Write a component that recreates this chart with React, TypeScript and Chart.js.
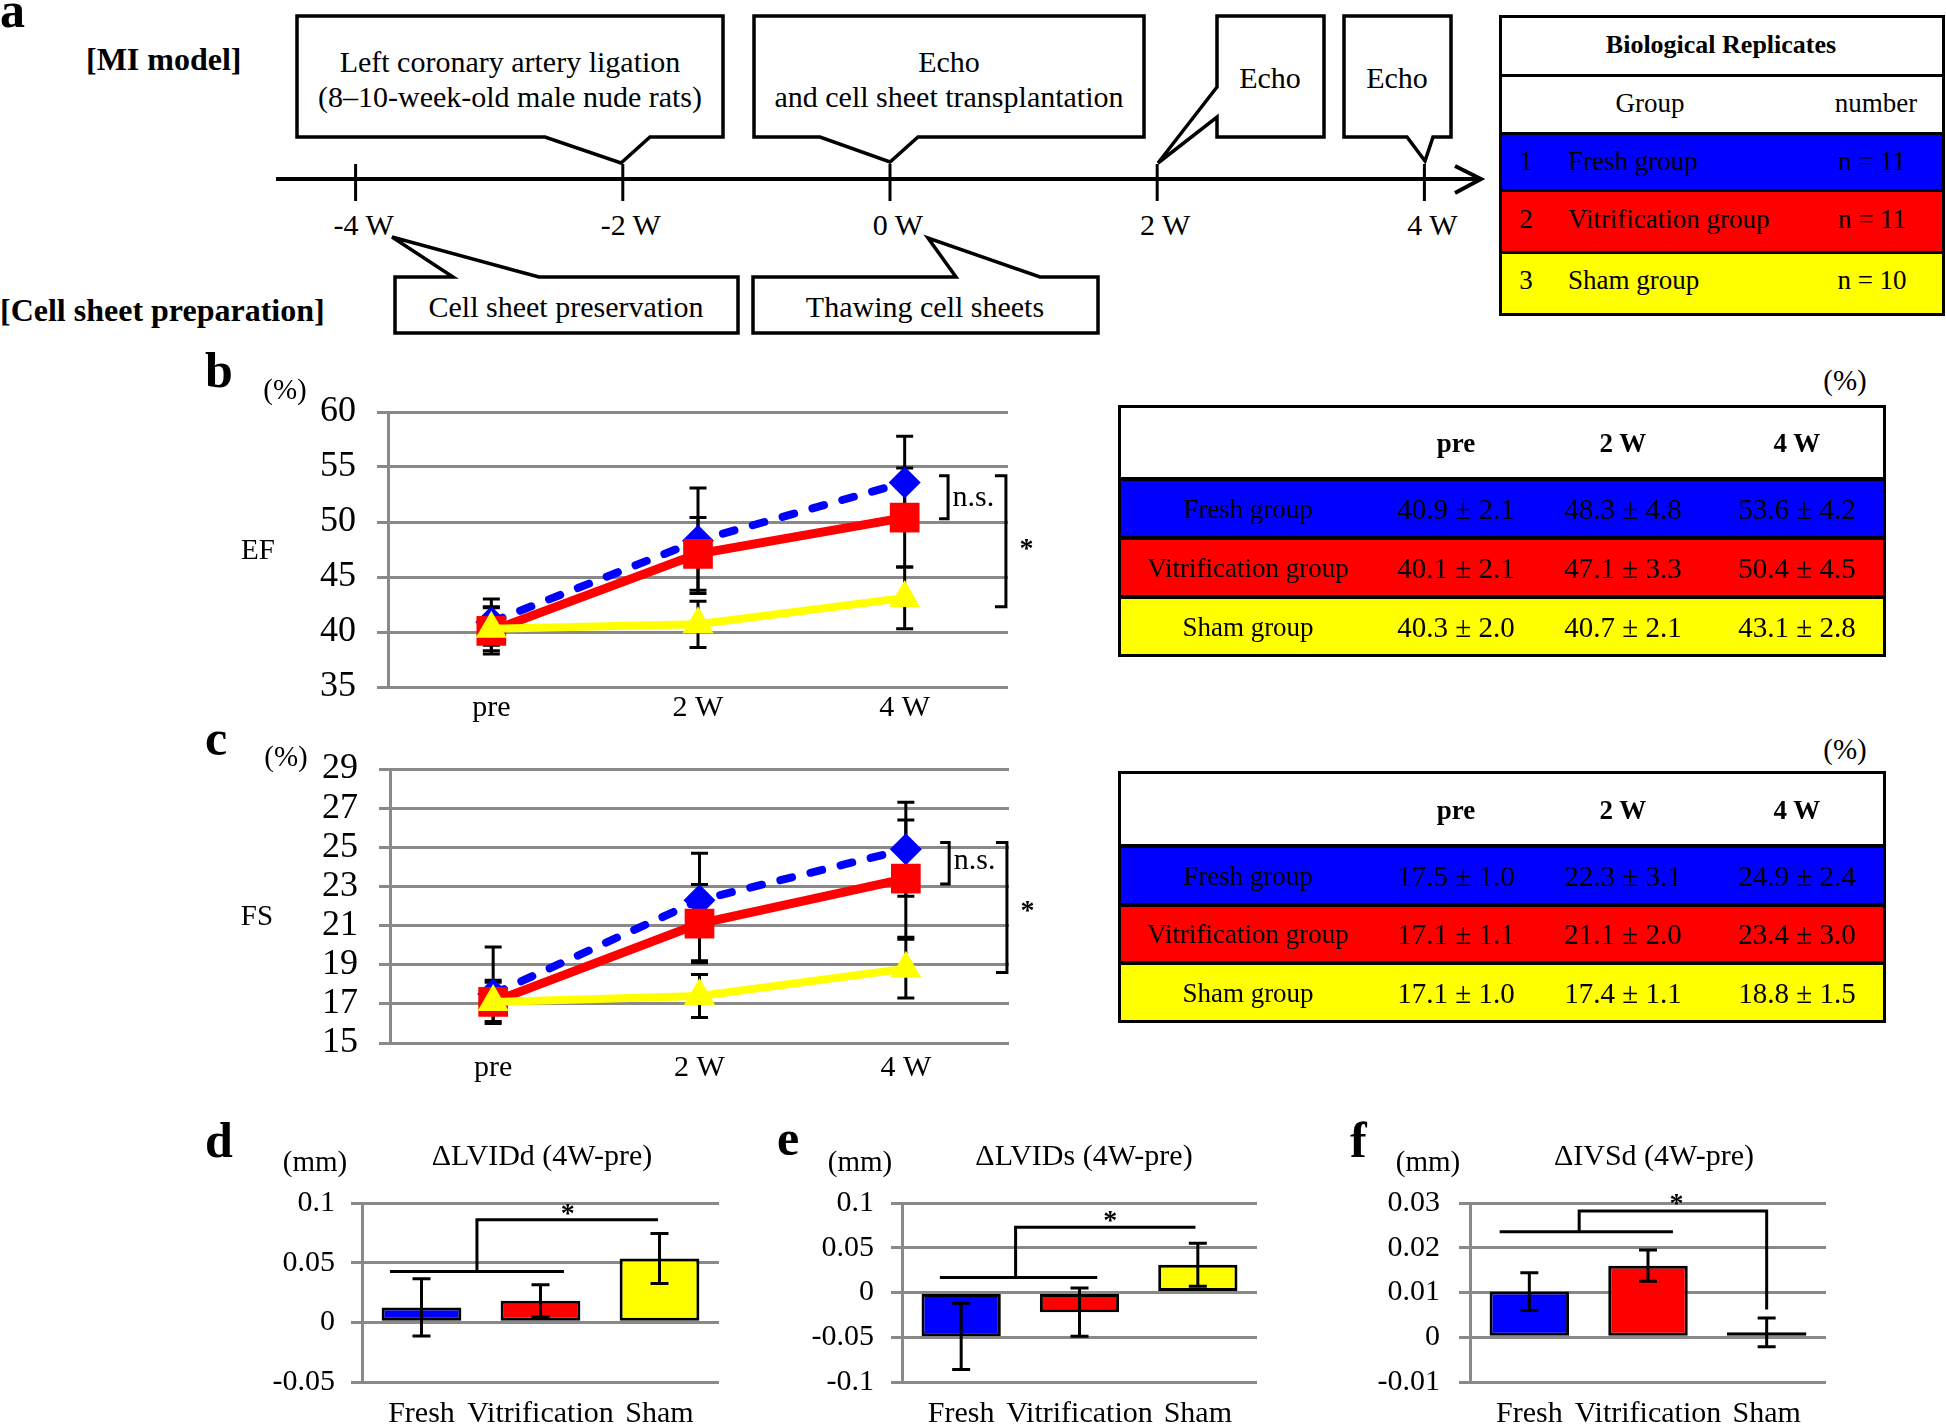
import React, { useEffect, useRef } from 'react';
import { Chart, registerables } from 'chart.js';

Chart.register(...registerables);

const FONT = "'Liberation Serif', 'Times New Roman', Times, serif";
const BLUE = '#0000FF';
const RED = '#FF0000';
const YELLOW = '#FFFF00';
const GRID = '#898989';

// ---------------- data ----------------
const timeLabels = ['pre', '2 W', '4 W'];
const groupNames = ['Fresh group', 'Vitrification group', 'Sham group'];
const groupShort = ['Fresh', 'Vitrification', 'Sham'];
const groupN = [11, 11, 10];
const groupColors = [BLUE, RED, YELLOW];

// EF (%)
const efFresh = [40.9, 48.3, 53.6];
const efFreshSD = [2.1, 4.8, 4.2];
const efVitri = [40.1, 47.1, 50.4];
const efVitriSD = [2.1, 3.3, 4.5];
const efSham = [40.3, 40.7, 43.1];
const efShamSD = [2.0, 2.1, 2.8];
const efTicks = [35, 40, 45, 50, 55, 60];
const efNsBracket = [54.2, 50.3];
const efStarBracket = [54.2, 42.3];
const efMarkY = [52.2, 47.5]; // n.s. and * label heights

// FS (%)
const fsFresh = [17.5, 22.3, 24.9];
const fsFreshSD = [1.0, 3.1, 2.4];
const fsFreshErrUp = [2.4, 2.4, 2.4]; // upper bars as drawn in the figure
const fsVitri = [17.1, 21.1, 23.4];
const fsVitriSD = [1.1, 2.0, 3.0];
const fsSham = [17.1, 17.4, 18.8];
const fsShamSD = [1.0, 1.1, 1.5];
const fsTicks = [15, 17, 19, 21, 23, 25, 27, 29];
const fsNsBracket = [25.25, 23.13];
const fsStarBracket = [25.25, 18.6];
const fsMarkY = [24.3, 21.7];

// delta values (mm)
const lviddMean = [0.0125, 0.018, 0.0535];
const lviddErr = [0.024, 0.0135, 0.021];
const lviddTicks = [-0.05, 0, 0.05, 0.1];
const lviddTickLabels = ['-0.05', '0', '0.05', '0.1'];
const lviddSig = [0.0425, 0.086, 0.09];

const lvidsMean = [-0.049, -0.022, 0.031];
const lvidsErr = [0.037, 0.027, 0.024];
const lvidsTicks = [-0.1, -0.05, 0, 0.05, 0.1];
const lvidsTickLabels = ['-0.1', '-0.05', '0', '0.05', '0.1'];
const lvidsSig = [0.0167, 0.073, 0.079];

const ivsdMean = [0.0102, 0.016, 0.0011];
const ivsdErr = [0.0042, 0.0035, 0.0032];
const ivsdTicks = [-0.01, 0, 0.01, 0.02, 0.03];
const ivsdTickLabels = ['-0.01', '0', '0.01', '0.02', '0.03'];
const ivsdSig = [0.0236, 0.0282, 0.0296, 0.0062];

// timeline
const timelineWeeks = [-4, -2, 0, 2, 4];

// ---------------- helpers ----------------
type Box = { x: number; y: number; w: number; h: number };
type Area = { l: number; t: number; r: number; b: number };

function frame(box: Box, area: Area) {
  return {
    padding: { left: 0, top: area.t - box.y, right: box.x + box.w - area.r, bottom: 0 },
    yWidth: area.l - box.x,
    xHeight: box.y + box.h - area.b,
  };
}

function Txt({ x, y, size = 30, bold = false, align = 'left', children }: any) {
  const style: React.CSSProperties = {
    position: 'absolute',
    top: y - 0.8375 * size,
    fontSize: size,
    lineHeight: size + 'px',
    height: size,
    fontWeight: bold ? 'bold' : 'normal',
    whiteSpace: 'nowrap',
    fontFamily: FONT,
    color: '#000',
    zIndex: 3,
  };
  if (align === 'left') style.left = x;
  else if (align === 'center') {
    style.left = x - 500;
    style.width = 1000;
    style.textAlign = 'center';
  } else {
    style.left = x - 1000;
    style.width = 1000;
    style.textAlign = 'right';
  }
  return <div style={style}>{children}</div>;
}

function ChartCanvas({ box, make }: { box: Box; make: () => any }) {
  const ref = useRef<HTMLCanvasElement>(null);
  useEffect(() => {
    const chart = new Chart(ref.current as HTMLCanvasElement, make());
    return () => chart.destroy();
  }, []);
  return (
    <canvas
      ref={ref}
      width={box.w}
      height={box.h}
      style={{ position: 'absolute', left: box.x, top: box.y, width: box.w, height: box.h, zIndex: 1 }}
    />
  );
}

function drawErr(ctx: CanvasRenderingContext2D, x: number, yTop: number, yBot: number, cap: number) {
  ctx.beginPath();
  ctx.moveTo(x, yTop);
  ctx.lineTo(x, yBot);
  ctx.moveTo(x - cap, yTop);
  ctx.lineTo(x + cap, yTop);
  ctx.moveTo(x - cap, yBot);
  ctx.lineTo(x + cap, yBot);
  ctx.stroke();
}

function yScale(f: any, ticks: number[], labels: string[], font: number, pad: number) {
  return {
    type: 'linear',
    min: ticks[0],
    max: ticks[ticks.length - 1],
    afterBuildTicks: (axis: any) => {
      axis.ticks = ticks.map((v) => ({ value: v }));
    },
    afterFit: (s: any) => {
      s.width = f.yWidth;
    },
    grid: { color: GRID, lineWidth: 3, tickLength: 11, drawTicks: true, tickColor: GRID },
    border: { display: true, color: GRID, width: 3 },
    ticks: {
      color: '#000',
      font: { family: FONT, size: font, lineHeight: 1 },
      padding: pad,
      autoSkip: false,
      callback: (_v: any, i: number) => labels[i],
    },
  };
}

function xScale(f: any, labels: string[], pad: number) {
  return {
    type: 'category',
    labels,
    offset: true,
    afterFit: (s: any) => {
      s.height = f.xHeight;
    },
    grid: { display: false, drawTicks: false },
    border: { display: false },
    ticks: { color: '#000', font: { family: FONT, size: 30 }, padding: pad, maxRotation: 0, autoSkip: false },
  };
}

type Series = { data: number[]; up: number[]; down: number[] };

function lineConfig(o: {
  box: Box;
  area: Area;
  ticks: number[];
  series: Series[];
  ns: number[];
  star: number[];
  marks: number[];
  xPad: number;
  yPad: number;
}) {
  const f = frame(o.box, o.area);
  const styles: any[] = [
    { pointStyle: 'rectRot', pointRadius: 16, borderDash: [12, 19], borderWidth: 8, order: 3 },
    { pointStyle: 'rect', pointRadius: 21, borderDash: [], borderWidth: 9, order: 2 },
    { pointStyle: 'triangle', pointRadius: 18, borderDash: [], borderWidth: 8, order: 1 },
  ];
  const datasets = o.series.map((s, i) => ({
    label: groupNames[i],
    data: s.data,
    ...styles[i],
    borderColor: groupColors[i],
    backgroundColor: groupColors[i],
    pointBackgroundColor: groupColors[i],
    pointBorderColor: groupColors[i],
    pointBorderWidth: 0,
    pointHoverRadius: styles[i].pointRadius,
    borderCapStyle: 'round',
    tension: 0,
    fill: false,
    clip: false,
  }));
  const errPlugin = {
    id: 'errbars',
    beforeDatasetsDraw(chart: any) {
      const ctx = chart.ctx;
      const ys = chart.scales.y;
      ctx.save();
      ctx.strokeStyle = '#000';
      ctx.lineWidth = 3;
      o.series.forEach((s, i) => {
        chart.getDatasetMeta(i).data.forEach((pt: any, j: number) => {
          drawErr(ctx, pt.x, ys.getPixelForValue(s.data[j] + s.up[j]), ys.getPixelForValue(s.data[j] - s.down[j]), 8.5);
        });
      });
      ctx.restore();
    },
  };
  const sigPlugin = {
    id: 'sig',
    afterDraw(chart: any) {
      const ctx = chart.ctx;
      const xs = chart.scales.x;
      const ys = chart.scales.y;
      ctx.save();
      ctx.strokeStyle = '#000';
      ctx.lineWidth = 3;
      ctx.lineJoin = 'miter';
      const bracket = (xi: number, v1: number, v2: number, tick: number) => {
        const x = xs.getPixelForValue(xi);
        const y1 = ys.getPixelForValue(v1);
        const y2 = ys.getPixelForValue(v2);
        ctx.beginPath();
        ctx.moveTo(x - tick, y1);
        ctx.lineTo(x, y1);
        ctx.lineTo(x, y2);
        ctx.lineTo(x - tick, y2);
        ctx.stroke();
      };
      bracket(2.21, o.ns[0], o.ns[1], 9);
      bracket(2.49, o.star[0], o.star[1], 11);
      ctx.fillStyle = '#000';
      ctx.textBaseline = 'middle';
      ctx.textAlign = 'left';
      ctx.font = `30px ${FONT}`;
      ctx.fillText('n.s.', xs.getPixelForValue(2.232), ys.getPixelForValue(o.marks[0]));
      ctx.textAlign = 'center';
      ctx.font = `bold 28px ${FONT}`;
      ctx.fillText('*', xs.getPixelForValue(2.59), ys.getPixelForValue(o.marks[1]));
      ctx.restore();
    },
  };
  return {
    type: 'line',
    data: { labels: timeLabels, datasets },
    options: {
      responsive: false,
      maintainAspectRatio: false,
      animation: false,
      events: [],
      layout: { padding: f.padding },
      plugins: { legend: { display: false }, tooltip: { enabled: false } },
      scales: {
        x: xScale(f, timeLabels, o.xPad),
        y: yScale(f, o.ticks, o.ticks.map(String), 36, o.yPad),
      },
    },
    plugins: [errPlugin, sigPlugin],
  };
}

function barConfig(o: {
  box: Box;
  area: Area;
  mean: number[];
  err: number[];
  ticks: number[];
  labels: string[];
  yPad: number;
  sig: number[];
  lowFrom: number;
  lowTo: number;
  vx: number;
  highTo: number;
  starX: number;
}) {
  const f = frame(o.box, o.area);
  const errPlugin = {
    id: 'errbars',
    afterDatasetsDraw(chart: any) {
      const ctx = chart.ctx;
      const ys = chart.scales.y;
      ctx.save();
      ctx.strokeStyle = '#000';
      ctx.lineWidth = 3;
      chart.getDatasetMeta(0).data.forEach((bar: any, j: number) => {
        drawErr(ctx, bar.x, ys.getPixelForValue(o.mean[j] + o.err[j]), ys.getPixelForValue(o.mean[j] - o.err[j]), 9);
      });
      ctx.restore();
    },
  };
  const sigPlugin = {
    id: 'sig',
    afterDraw(chart: any) {
      const ctx = chart.ctx;
      const xs = chart.scales.x;
      const ys = chart.scales.y;
      ctx.save();
      ctx.strokeStyle = '#000';
      ctx.lineWidth = 3;
      ctx.lineJoin = 'miter';
      const yLow = ys.getPixelForValue(o.sig[0]);
      const yHigh = ys.getPixelForValue(o.sig[1]);
      const xv = xs.getPixelForValue(o.vx);
      ctx.beginPath();
      ctx.moveTo(xs.getPixelForValue(o.lowFrom), yLow);
      ctx.lineTo(xs.getPixelForValue(o.lowTo), yLow);
      ctx.stroke();
      ctx.beginPath();
      ctx.moveTo(xv, yLow);
      ctx.lineTo(xv, yHigh);
      ctx.lineTo(xs.getPixelForValue(o.highTo), yHigh);
      if (o.sig.length > 3) ctx.lineTo(xs.getPixelForValue(o.highTo), ys.getPixelForValue(o.sig[3]));
      ctx.stroke();
      ctx.fillStyle = '#000';
      ctx.textAlign = 'center';
      ctx.textBaseline = 'middle';
      ctx.font = `bold 28px ${FONT}`;
      ctx.fillText('*', xs.getPixelForValue(o.starX), ys.getPixelForValue(o.sig[2]));
      ctx.restore();
    },
  };
  return {
    type: 'bar',
    data: {
      labels: groupShort,
      datasets: [
        {
          data: o.mean,
          backgroundColor: groupColors,
          borderColor: '#000',
          borderWidth: 3,
          borderSkipped: false,
          barPercentage: 0.67,
          categoryPercentage: 1,
        },
      ],
    },
    options: {
      responsive: false,
      maintainAspectRatio: false,
      animation: false,
      events: [],
      layout: { padding: f.padding },
      plugins: { legend: { display: false }, tooltip: { enabled: false } },
      scales: {
        x: xScale(f, groupShort, 14),
        y: yScale(f, o.ticks, o.labels, 30, o.yPad),
      },
    },
    plugins: [errPlugin, sigPlugin],
  };
}

// ---------------- panel a ----------------
const weekX = (w: number) => 890 + w * 133.6;

function Timeline() {
  const sw = 3.5;
  const boxes = [
    'M297,16 H723 V137 H650 L621,163 L545,137 H297 Z',
    'M754,16 H1144 V137 H918 L890,162 L820,137 H754 Z',
    'M1217,16 H1324 V137 H1217 V117 L1158,163 L1217,87 Z',
    'M1344,16 H1451 V137 H1433 L1425,161 L1407,137 H1344 Z',
    'M395,277 H453 L392,237 L539,277 H738 V333 H395 Z',
    'M753,277 H956 L928,238 L1040,277 H1098 V333 H753 Z',
  ];
  return (
    <>
      <svg width={1946} height={345} style={{ position: 'absolute', left: 0, top: 0, zIndex: 1 }}>
        {boxes.map((d, i) => (
          <path key={i} d={d} fill="#fff" stroke="#000" strokeWidth={sw} strokeLinejoin="miter" />
        ))}
        <line x1={276} y1={179} x2={1479} y2={179} stroke="#000" strokeWidth={4} />
        <polyline points="1455,166 1481,179 1455,193" fill="none" stroke="#000" strokeWidth={4} />
        {timelineWeeks.map((w) => (
          <line key={w} x1={weekX(w)} y1={164} x2={weekX(w)} y2={201} stroke="#000" strokeWidth={3} />
        ))}
      </svg>
      <Txt x={0} y={27} size={50} bold>a</Txt>
      <Txt x={86} y={70} size={32} bold>[MI model]</Txt>
      <Txt x={0} y={321} size={32} bold>[Cell sheet preparation]</Txt>
      <Txt x={510} y={72} align="center">Left coronary artery ligation</Txt>
      <Txt x={510} y={107} align="center">(8–10-week-old male nude rats)</Txt>
      <Txt x={949} y={72} align="center">Echo</Txt>
      <Txt x={949} y={107} align="center">and cell sheet transplantation</Txt>
      <Txt x={1270} y={88} align="center">Echo</Txt>
      <Txt x={1397} y={88} align="center">Echo</Txt>
      <Txt x={566} y={317} align="center">Cell sheet preservation</Txt>
      <Txt x={925} y={317} align="center">Thawing cell sheets</Txt>
      {timelineWeeks.map((w) => (
        <Txt key={w} x={weekX(w) + 8} y={235} align="center">{`${w} W`}</Txt>
      ))}
    </>
  );
}

function BioTable() {
  const x0 = 1500;
  const x1 = 1944;
  const rb = [16, 75, 133, 190, 252, 315];
  const fills = ['#fff', '#fff', ...groupColors];
  const base = [171, 229, 290];
  return (
    <>
      {fills.map((c, i) => (
        <div key={i} style={{ position: 'absolute', left: x0, top: rb[i], width: x1 - x0, height: rb[i + 1] - rb[i], background: c, zIndex: 1 }} />
      ))}
      <div style={{ position: 'absolute', left: x0 - 1, top: rb[0] - 1, width: x1 - x0 + 2, height: rb[5] - rb[0] + 2, border: '3px solid #000', boxSizing: 'border-box', zIndex: 2 }} />
      {rb.slice(1, 5).map((y, i) => (
        <div key={i} style={{ position: 'absolute', left: x0, top: y - 1.5, width: x1 - x0, height: 3, background: '#000', zIndex: 2 }} />
      ))}
      <Txt x={1721} y={54} size={26} bold align="center">Biological Replicates</Txt>
      <Txt x={1650} y={113} size={27} align="center">Group</Txt>
      <Txt x={1876} y={113} size={27} align="center">number</Txt>
      {groupNames.map((g, i) => (
        <React.Fragment key={g}>
          <Txt x={1526} y={base[i]} size={27} align="center">{String(i + 1)}</Txt>
          <Txt x={1568} y={base[i]} size={27}>{g}</Txt>
          <Txt x={1872} y={base[i]} size={27} align="center">{`n = ${groupN[i]}`}</Txt>
        </React.Fragment>
      ))}
    </>
  );
}

function StatTable({ rb, base, means, sds, unitY }: { rb: number[]; base: number[]; means: number[][]; sds: number[][]; unitY: number }) {
  const x0 = 1119;
  const x1 = 1885;
  const fills = ['#fff', ...groupColors];
  const colX = [1456, 1623, 1797];
  return (
    <>
      <Txt x={1845} y={unitY} size={29} align="center">(%)</Txt>
      {fills.map((c, i) => (
        <div key={i} style={{ position: 'absolute', left: x0, top: rb[i], width: x1 - x0, height: rb[i + 1] - rb[i], background: c, zIndex: 1 }} />
      ))}
      <div style={{ position: 'absolute', left: x0 - 1, top: rb[0] - 1, width: x1 - x0 + 2, height: rb[4] - rb[0] + 2, border: '3px solid #000', boxSizing: 'border-box', zIndex: 2 }} />
      {rb.slice(1, 4).map((y, i) => (
        <div key={i} style={{ position: 'absolute', left: x0, top: y - 2, width: x1 - x0, height: 4, background: '#000', zIndex: 2 }} />
      ))}
      {timeLabels.map((t, j) => (
        <Txt key={t} x={colX[j]} y={base[0]} size={27} bold align="center">{t}</Txt>
      ))}
      {groupNames.map((g, i) => (
        <React.Fragment key={g}>
          <Txt x={1248} y={base[i + 1]} size={27} align="center">{g}</Txt>
          {means[i].map((m, j) => (
            <Txt key={j} x={colX[j]} y={base[i + 1]} size={29} align="center">{`${m.toFixed(1)} ± ${sds[i][j].toFixed(1)}`}</Txt>
          ))}
        </React.Fragment>
      ))}
    </>
  );
}

// ---------------- chart geometry ----------------
const boxB: Box = { x: 300, y: 360, w: 760, h: 385 };
const areaB: Area = { l: 388, t: 412, r: 1008, b: 687 };
const boxC: Box = { x: 300, y: 718, w: 760, h: 372 };
const areaC: Area = { l: 390, t: 769, r: 1009, b: 1043 };
const boxD: Box = { x: 240, y: 1140, w: 520, h: 284 };
const areaD: Area = { l: 362, t: 1203, r: 719, b: 1382 };
const boxE: Box = { x: 780, y: 1140, w: 520, h: 284 };
const areaE: Area = { l: 902, t: 1203, r: 1257, b: 1382 };
const boxF: Box = { x: 1330, y: 1140, w: 570, h: 284 };
const areaF: Area = { l: 1470, t: 1203, r: 1826, b: 1382 };

export default function App() {
  useEffect(() => {
    document.body.style.margin = '0';
    document.documentElement.style.overflow = 'hidden';
  }, []);
  return (
    <div style={{ position: 'absolute', left: 0, top: 0, width: 1946, height: 1424, background: '#fff', overflow: 'hidden', fontFamily: FONT }}>
      <Timeline />
      <BioTable />

      {/* panel b */}
      <Txt x={205} y={387} size={50} bold>b</Txt>
      <Txt x={285} y={399} size={29} align="center">(%)</Txt>
      <Txt x={258} y={559} size={29} align="center">EF</Txt>
      <ChartCanvas
        box={boxB}
        make={() =>
          lineConfig({
            box: boxB,
            area: areaB,
            ticks: efTicks,
            series: [
              { data: efFresh, up: efFreshSD, down: efFreshSD },
              { data: efVitri, up: efVitriSD, down: efVitriSD },
              { data: efSham, up: efShamSD, down: efShamSD },
            ],
            ns: efNsBracket,
            star: efStarBracket,
            marks: efMarkY,
            xPad: 3,
            yPad: 21,
          })
        }
      />
      <StatTable rb={[406, 479, 538, 597, 656]} base={[453, 519, 578, 637]} means={[efFresh, efVitri, efSham]} sds={[efFreshSD, efVitriSD, efShamSD]} unitY={390} />

      {/* panel c */}
      <Txt x={205} y={755} size={50} bold>c</Txt>
      <Txt x={286} y={766} size={29} align="center">(%)</Txt>
      <Txt x={257} y={925} size={29} align="center">FS</Txt>
      <ChartCanvas
        box={boxC}
        make={() =>
          lineConfig({
            box: boxC,
            area: areaC,
            ticks: fsTicks,
            series: [
              { data: fsFresh, up: fsFreshErrUp, down: fsFreshSD },
              { data: fsVitri, up: fsVitriSD, down: fsVitriSD },
              { data: fsSham, up: fsShamSD, down: fsShamSD },
            ],
            ns: fsNsBracket,
            star: fsStarBracket,
            marks: fsMarkY,
            xPad: 7,
            yPad: 21,
          })
        }
      />
      <StatTable rb={[772, 846, 905, 963, 1022]} base={[820, 886, 944, 1003]} means={[fsFresh, fsVitri, fsSham]} sds={[fsFreshSD, fsVitriSD, fsShamSD]} unitY={759} />

      {/* panel d */}
      <Txt x={205} y={1157} size={50} bold>d</Txt>
      <Txt x={315} y={1171} size={29} align="center">(mm)</Txt>
      <Txt x={542} y={1165} size={30} align="center">ΔLVIDd (4W-pre)</Txt>
      <ChartCanvas
        box={boxD}
        make={() =>
          barConfig({
            box: boxD,
            area: areaD,
            mean: lviddMean,
            err: lviddErr,
            ticks: lviddTicks,
            labels: lviddTickLabels,
            yPad: 16,
            sig: lviddSig,
            lowFrom: -0.265,
            lowTo: 1.197,
            vx: 0.466,
            highTo: 1.987,
            starX: 1.23,
          })
        }
      />

      {/* panel e */}
      <Txt x={777} y={1155} size={50} bold>e</Txt>
      <Txt x={860} y={1171} size={29} align="center">(mm)</Txt>
      <Txt x={1084} y={1165} size={30} align="center">ΔLVIDs (4W-pre)</Txt>
      <ChartCanvas
        box={boxE}
        make={() =>
          barConfig({
            box: boxE,
            area: areaE,
            mean: lvidsMean,
            err: lvidsErr,
            ticks: lvidsTicks,
            labels: lvidsTickLabels,
            yPad: 17,
            sig: lvidsSig,
            lowFrom: -0.18,
            lowTo: 1.15,
            vx: 0.46,
            highTo: 1.98,
            starX: 1.26,
          })
        }
      />

      {/* panel f */}
      <Txt x={1350} y={1157} size={50} bold>f</Txt>
      <Txt x={1428} y={1171} size={29} align="center">(mm)</Txt>
      <Txt x={1654} y={1165} size={30} align="center">ΔIVSd (4W-pre)</Txt>
      <ChartCanvas
        box={boxF}
        make={() =>
          barConfig({
            box: boxF,
            area: areaF,
            mean: ivsdMean,
            err: ivsdErr,
            ticks: ivsdTicks,
            labels: ivsdTickLabels,
            yPad: 19,
            sig: ivsdSig,
            lowFrom: -0.25,
            lowTo: 1.21,
            vx: 0.42,
            highTo: 2.0,
            starX: 1.24,
          })
        }
      />
    </div>
  );
}
